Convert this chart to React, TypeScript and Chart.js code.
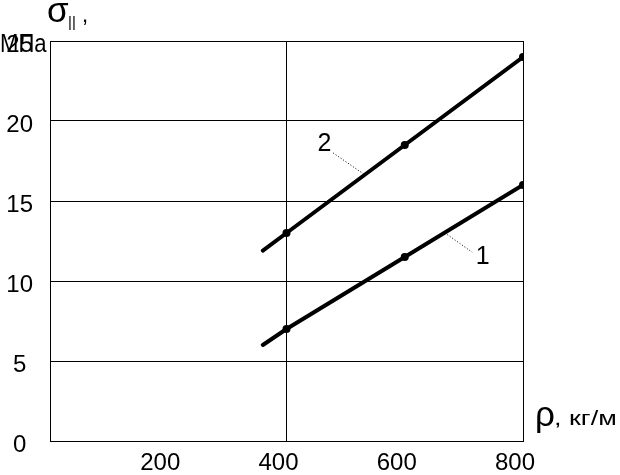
import React, { useEffect, useRef } from "react";
import { Chart, registerables } from "chart.js";

Chart.register(...registerables);

// ---- data ----
const densityCurve1 = [360, 400, 600, 800];
const strengthCurve1 = [6.0, 7.0, 11.5, 16.0];
const densityCurve2 = [360, 400, 600, 800];
const strengthCurve2 = [11.9, 13.0, 18.5, 24.0];
const markerRadius = [0, 4, 4, 4];
const curveNames = ["1", "2"];
const xTickValues = [0, 200, 400, 600, 800];
const xTickLabels = ["", "200", "400", "600", "800"];
const xGridValues = [400, 800];
const yTickValues = [0, 5, 10, 15, 20, 25];
const yTickLabels = ["0", "5", "10", "15", "20", "25"];

const FONT = "'Liberation Sans', Arial, sans-serif";

// annotation placements in data units
const curveLabelPos = [
  { x: 732, y: 11.5 },
  { x: 464, y: 18.55 },
];
const leaderLines = [
  { x1: 672, y1: 12.9, x2: 714, y2: 11.8 },
  { x1: 479, y1: 18.0, x2: 530, y2: 16.7 },
];

const annotationPlugin = {
  id: "annotations",
  afterDatasetsDraw(chart: any) {
    const { ctx } = chart;
    const xs = chart.scales.x;
    const ys = chart.scales.y;
    ctx.save();
    ctx.fillStyle = "#000";
    ctx.strokeStyle = "#000";
    // leader lines
    ctx.lineWidth = 1;
    ctx.setLineDash([1, 2]);
    leaderLines.forEach((l) => {
      ctx.beginPath();
      ctx.moveTo(xs.getPixelForValue(l.x1), ys.getPixelForValue(l.y1));
      ctx.lineTo(xs.getPixelForValue(l.x2), ys.getPixelForValue(l.y2));
      ctx.stroke();
    });
    ctx.setLineDash([]);
    // curve labels
    ctx.font = `25px ${FONT}`;
    ctx.textAlign = "center";
    ctx.textBaseline = "middle";
    curveNames.forEach((n, i) => {
      ctx.fillText(n, xs.getPixelForValue(curveLabelPos[i].x), ys.getPixelForValue(curveLabelPos[i].y));
    });
    // axis titles
    ctx.textAlign = "left";
    ctx.textBaseline = "alphabetic";
    ctx.font = `35px ${FONT}`;
    ctx.fillText("σ", 47, 22);
    ctx.font = `15px ${FONT}`;
    ctx.fillText("||", 68, 27);
    ctx.font = `22px ${FONT}`;
    ctx.fillText(",", 82, 22);
    ctx.save();
    ctx.translate(0, 52);
    ctx.scale(0.85, 1);
    ctx.font = `26px ${FONT}`;
    ctx.fillText("МПа", 0, 0);
    ctx.restore();
    ctx.font = `35px ${FONT}`;
    ctx.fillText("ρ", 535, 426);
    ctx.save();
    ctx.translate(554, 425);
    ctx.scale(1.35, 1);
    ctx.font = `20px ${FONT}`;
    ctx.fillText(", кг/м", 0, 0);
    ctx.restore();
    ctx.restore();
  },
};

export default function App() {
  const canvasRef = useRef<HTMLCanvasElement | null>(null);

  useEffect(() => {
    if (!canvasRef.current) return;
    const mk = (xs: number[], ys: number[]) => xs.map((x, i) => ({ x, y: ys[i] }));
    const lineStyle = {
      borderColor: "#000",
      backgroundColor: "#000",
      borderWidth: 4,
      borderCapStyle: "round" as const,
      pointRadius: markerRadius,
      pointBackgroundColor: "#000",
      pointBorderColor: "#000",
      pointBorderWidth: 0,
      tension: 0,
      fill: false,
    };
    const chart = new Chart(canvasRef.current, {
      type: "line",
      data: {
        datasets: [
          { label: curveNames[0], data: mk(densityCurve1, strengthCurve1), ...lineStyle },
          { label: curveNames[1], data: mk(densityCurve2, strengthCurve2), ...lineStyle },
        ],
      },
      options: {
        responsive: false,
        animation: false,
        layout: { padding: { top: 41, right: 97, left: 0, bottom: 0 } },
        plugins: { legend: { display: false }, tooltip: { enabled: false } },
        scales: {
          x: {
            type: "linear",
            min: 0,
            max: 800,
            afterBuildTicks: (s: any) => {
              s.ticks = xTickValues.map((v) => ({ value: v }));
            },
            afterFit: (s: any) => {
              s.height = 34;
            },
            ticks: {
              color: "#000",
              font: { family: FONT, size: 24 },
              padding: 8,
              labelOffset: -8,
              autoSkip: false,
              maxRotation: 0,
              callback: (v: any) => xTickLabels[xTickValues.indexOf(Number(v))],
            },
            grid: {
              drawTicks: false,
              lineWidth: 1,
              color: (c: any) => (xGridValues.includes(c.tick?.value) ? "#000" : "rgba(0,0,0,0)"),
            },
            border: { display: true, color: "#000", width: 1 },
          },
          y: {
            type: "linear",
            min: 0,
            max: 25,
            afterBuildTicks: (s: any) => {
              s.ticks = yTickValues.map((v) => ({ value: v }));
            },
            afterFit: (s: any) => {
              s.width = 50;
            },
            ticks: {
              color: "#000",
              font: { family: FONT, size: 24 },
              padding: 17,
              crossAlign: "center",
              labelOffset: 4,
              autoSkip: false,
              callback: (v: any) => yTickLabels[yTickValues.indexOf(Number(v))],
            },
            grid: { drawTicks: false, lineWidth: 1, color: "#000" },
            border: { display: true, color: "#000", width: 1 },
          },
        },
      },
      plugins: [annotationPlugin],
    });
    return () => chart.destroy();
  }, []);

  return (
    <div style={{ position: "absolute", left: 0, top: 0, width: 620, height: 475, background: "#fff" }}>
      <canvas ref={canvasRef} width={620} height={475} style={{ display: "block" }} />
    </div>
  );
}
